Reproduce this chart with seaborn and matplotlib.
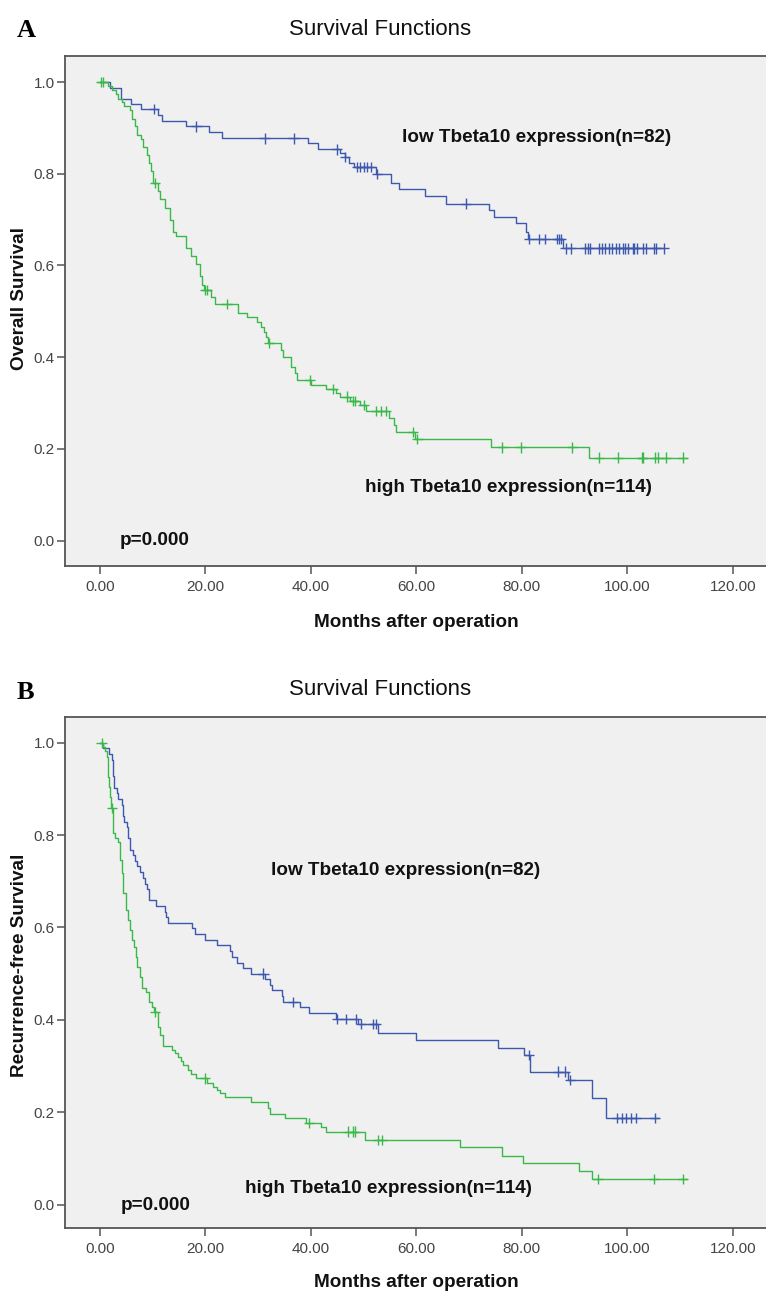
import numpy as np
import pandas as pd
import matplotlib
matplotlib.use("Agg")
import matplotlib.pyplot as plt
import seaborn as sns

# ---------------- data ----------------
groups = ["low Tbeta10 expression(n=82)", "high Tbeta10 expression(n=114)"]
x_ticks = [0, 20, 40, 60, 80, 100, 120]
x_tick_labels = ["0.00", "20.00", "40.00", "60.00", "80.00", "100.00", "120.00"]
y_ticks = [0.0, 0.2, 0.4, 0.6, 0.8, 1.0]
y_tick_labels = ["0.0", "0.2", "0.4", "0.6", "0.8", "1.0"]

# Panel A: overall survival, low expression
os_low_t = [1.9, 4.0, 5.9, 7.8, 11.0, 11.7, 16.3, 20.7, 23.2, 39.5, 41.4, 45.5,
            46.4, 47.3, 48.2, 52.4, 55.2, 56.8, 61.6, 65.7, 73.7, 74.7, 78.9,
            80.8, 81.1, 87.8]
os_low_s = [0.988, 0.964, 0.953, 0.941, 0.929, 0.916, 0.903, 0.890, 0.877, 0.866,
            0.853, 0.845, 0.837, 0.824, 0.814, 0.799, 0.780, 0.767, 0.752, 0.735,
            0.721, 0.705, 0.692, 0.673, 0.658, 0.637]
os_low_cens = [10.2, 18.3, 31.2, 36.7, 45.0, 46.5, 48.7, 49.3, 50.0, 50.7, 51.4,
               52.6, 69.4, 81.3, 83.2, 84.4, 86.7, 87.0, 87.4, 88.3, 89.3, 92.0,
               92.5, 92.9, 94.7, 95.2, 95.7, 96.5, 97.2, 97.9, 98.5, 99.2, 99.6,
               100.1, 101.0, 101.3, 101.9, 102.9, 103.5, 105.1, 105.4, 107.0]
os_low_end = 107.0

# Panel A: overall survival, high expression
os_high_t = [1.5, 2.2, 3.0, 3.5, 4.1, 4.6, 5.7, 6.0, 6.6, 7.1, 7.7, 8.2, 9.0, 9.2,
             9.6, 10.0, 11.0, 11.4, 12.3, 13.3, 13.9, 14.5, 16.4, 17.3, 18.3, 18.9,
             19.4, 19.7, 21.0, 21.8, 26.2, 27.8, 29.7, 30.6, 31.1, 31.5, 31.8, 34.4,
             34.8, 36.3, 36.9, 37.4, 40.1, 42.9, 44.8, 45.5, 47.5, 49.3, 50.4, 54.9,
             55.7, 56.2, 59.7, 74.1, 92.8]
os_high_s = [0.991, 0.982, 0.973, 0.964, 0.956, 0.947, 0.938, 0.920, 0.903, 0.885,
             0.876, 0.859, 0.841, 0.823, 0.806, 0.779, 0.762, 0.744, 0.726, 0.700,
             0.673, 0.664, 0.638, 0.620, 0.602, 0.576, 0.558, 0.547, 0.531, 0.516,
             0.497, 0.487, 0.477, 0.466, 0.455, 0.443, 0.430, 0.415, 0.400, 0.379,
             0.365, 0.350, 0.339, 0.330, 0.322, 0.314, 0.305, 0.296, 0.282, 0.267,
             0.252, 0.237, 0.221, 0.203, 0.181]
os_high_cens = [0.2, 0.5, 10.4, 20.0, 20.3, 24.0, 32.0, 39.8, 44.1, 46.8, 48.0, 48.3,
                50.0, 52.4, 53.3, 54.2, 59.3, 60.2, 76.3, 79.8, 89.5, 94.6, 98.3,
                102.8, 103.0, 105.3, 105.9, 107.3, 110.6]
os_high_end = 111.4

# Panel B: recurrence-free survival, low expression
rfs_low_t = [0.6, 1.7, 2.2, 2.4, 2.6, 3.2, 3.5, 4.1, 4.3, 4.6, 5.1, 5.3, 5.7, 6.3,
             6.6, 7.0, 7.6, 8.1, 8.5, 8.9, 9.3, 10.7, 12.3, 12.5, 12.9, 17.4, 18.0,
             20.0, 22.2, 24.6, 25.0, 25.9, 27.1, 28.7, 31.2, 32.2, 32.6, 34.5, 34.8,
             37.9, 39.7, 44.7, 48.9, 52.7, 60.0, 75.4, 80.5, 81.6, 88.7, 93.4, 96.0]
rfs_low_s = [0.988, 0.976, 0.963, 0.927, 0.902, 0.890, 0.878, 0.866, 0.841, 0.829,
             0.817, 0.793, 0.768, 0.756, 0.744, 0.732, 0.720, 0.707, 0.695, 0.683,
             0.659, 0.646, 0.634, 0.622, 0.610, 0.598, 0.585, 0.573, 0.561, 0.549,
             0.537, 0.524, 0.512, 0.500, 0.488, 0.476, 0.464, 0.451, 0.439, 0.427,
             0.414, 0.401, 0.391, 0.371, 0.356, 0.338, 0.324, 0.288, 0.270, 0.230,
             0.188]
rfs_low_cens = [31.0, 36.6, 44.9, 46.6, 48.5, 49.5, 51.8, 52.4, 81.3, 86.8, 88.1,
                89.2, 98.0, 99.0, 99.7, 100.7, 101.6, 105.3]
rfs_low_end = 106.1

# Panel B: recurrence-free survival, high expression
rfs_high_t = [0.6, 1.0, 1.3, 1.5, 1.6, 1.8, 1.9, 2.1, 2.15, 2.4, 2.8, 3.5, 3.8, 4.1,
              4.4, 4.9, 5.4, 5.7, 6.0, 6.4, 6.8, 7.1, 7.6, 7.9, 8.7, 9.2, 9.8, 10.2,
              11.0, 11.4, 11.9, 13.6, 14.3, 14.8, 15.3, 15.8, 16.7, 17.3, 18.3, 20.3,
              21.5, 22.2, 22.7, 23.7, 28.7, 31.9, 32.2, 35.0, 39.1, 42.0, 42.9, 50.2,
              68.2, 76.3, 80.3, 90.9, 93.4]
rfs_high_s = [0.991, 0.982, 0.970, 0.947, 0.926, 0.903, 0.883, 0.867, 0.858, 0.804,
              0.793, 0.784, 0.746, 0.717, 0.674, 0.638, 0.616, 0.594, 0.573, 0.558,
              0.537, 0.515, 0.493, 0.468, 0.461, 0.439, 0.428, 0.417, 0.385, 0.367,
              0.343, 0.335, 0.328, 0.320, 0.311, 0.302, 0.291, 0.282, 0.273, 0.264,
              0.255, 0.247, 0.241, 0.233, 0.223, 0.210, 0.197, 0.187, 0.176, 0.168,
              0.158, 0.140, 0.124, 0.105, 0.089, 0.073, 0.055]
rfs_high_cens = [0.3, 2.3, 10.4, 19.9, 39.6, 47.0, 48.0, 48.3, 52.7, 53.5, 94.4,
                 105.1, 110.6]
rfs_high_end = 111.4

# ---------------- helpers ----------------
def step_frame(t, s, end, group):
    tt = np.r_[0.0, t, end]
    ss = np.r_[1.0, s, s[-1]]
    return pd.DataFrame({"time": tt, "surv": ss, "group": group})

def censor_frame(t, s, cens, group):
    tt = np.r_[0.0, t]
    ss = np.r_[1.0, s]
    idx = np.searchsorted(tt, cens, side="right") - 1
    return pd.DataFrame({"time": cens, "surv": ss[idx], "group": group})

# ---------------- style ----------------
sns.set_style("white")
plt.rcParams["font.family"] = ["Liberation Sans Narrow", "Liberation Sans", "DejaVu Sans"]

W, H = 766, 1291
fig = plt.figure(figsize=(W / 100, H / 100), dpi=100)
fig.patch.set_facecolor("white")

def fx(x):
    return x / W

def fy(y):
    return (H - y) / H

palette = {groups[0]: "#3e58b0", groups[1]: "#3bb84a"}
BOLD = dict(fontweight="bold", fontsize=13.6, color="#111111",
            family=["Liberation Sans", "DejaVu Sans"])

px_per_month = 5.2725
x0_px = 100.0

panels = [
    dict(top=56, bottom=566, y1=82.0, y0=540.5,
         low=(os_low_t, os_low_s, os_low_end, os_low_cens),
         high=(os_high_t, os_high_s, os_high_end, os_high_cens),
         ylabel="Overall Survival", ylab_y=298, xlab_base=627,
         letter="A", letter_base=37, title_base=35,
         low_txt=(401.7, 141.7), high_txt=(365, 491.5), p_txt=(119.5, 545)),
    dict(top=717.3, bottom=1228.3, y1=742.7, y0=1204.5,
         low=(rfs_low_t, rfs_low_s, rfs_low_end, rfs_low_cens),
         high=(rfs_high_t, rfs_high_s, rfs_high_end, rfs_high_cens),
         ylabel="Recurrence-free Survival", ylab_y=965, xlab_base=1287,
         letter="B", letter_base=699, title_base=695,
         low_txt=(270.7, 875), high_txt=(245, 1193), p_txt=(120.7, 1210)),
]

left_px, right_px = 65, 766
for p in panels:
    ax = fig.add_axes([fx(left_px), fy(p["bottom"]), fx(right_px - left_px),
                       (p["bottom"] - p["top"]) / H])
    ax.set_facecolor("#f0f0f0")

    lt, ls, le, lc = p["low"]
    ht, hs, he, hc = p["high"]
    lines = pd.concat([step_frame(lt, ls, le, groups[0]),
                       step_frame(ht, hs, he, groups[1])], ignore_index=True)
    cens = pd.concat([censor_frame(lt, ls, lc, groups[0]),
                      censor_frame(ht, hs, hc, groups[1])], ignore_index=True)

    sns.lineplot(data=lines, x="time", y="surv", hue="group", palette=palette,
                 hue_order=groups, estimator=None, sort=False,
                 drawstyle="steps-post", linewidth=1.0, legend=False, ax=ax)
    sns.scatterplot(data=cens, x="time", y="surv", hue="group", palette=palette,
                    hue_order=groups, marker="+", s=55, linewidth=1.0,
                    legend=False, ax=ax, zorder=3)

    # axis limits from pixel geometry
    ax.set_xlim((left_px - x0_px) / px_per_month, (right_px - x0_px) / px_per_month)
    unit = p["y0"] - p["y1"]
    ax.set_ylim((p["y0"] - p["bottom"]) / unit, (p["y0"] - p["top"]) / unit)

    ax.set_xticks(x_ticks)
    ax.set_xticklabels(x_tick_labels)
    ax.set_yticks(y_ticks)
    ax.set_yticklabels(y_tick_labels)
    ax.tick_params(axis="both", direction="out", length=6, width=1.1,
                   color="#555555", labelcolor="#444444", labelsize=11)
    ax.tick_params(axis="x", pad=4)
    ax.tick_params(axis="y", pad=1.5)
    ax.xaxis.set_ticks_position("bottom")
    ax.yaxis.set_ticks_position("left")

    for side in ["left", "top", "bottom"]:
        ax.spines[side].set_color("#555555")
        ax.spines[side].set_linewidth(1.3)
        ax.spines[side].set_visible(True)
    ax.spines["right"].set_visible(False)

    ax.set_xlabel("")
    ax.set_ylabel("")

    # axis titles
    fig.text(fx(416.5), fy(p["xlab_base"]), "Months after operation",
             ha="center", va="baseline", **BOLD)
    fig.text(fx(20), fy(p["ylab_y"]), p["ylabel"], rotation=90,
             ha="center", va="center", **BOLD)

    # in-plot annotations
    fig.text(fx(p["low_txt"][0]), fy(p["low_txt"][1]), groups[0],
             ha="left", va="baseline", **BOLD)
    fig.text(fx(p["high_txt"][0]), fy(p["high_txt"][1]), groups[1],
             ha="left", va="baseline", **BOLD)
    fig.text(fx(p["p_txt"][0]), fy(p["p_txt"][1]), "p=0.000",
             ha="left", va="baseline", **BOLD)

    # title and panel letter
    fig.text(fx(380.5), fy(p["title_base"]), "Survival Functions",
             ha="center", va="baseline", fontsize=16, color="#111111",
             family=["Liberation Sans", "DejaVu Sans"])
    fig.text(fx(17), fy(p["letter_base"]), p["letter"], ha="left",
             va="baseline", fontsize=19, fontweight="bold", color="#000000",
             family=["Liberation Serif", "DejaVu Serif"])

fig.savefig("out.png", dpi=100)
